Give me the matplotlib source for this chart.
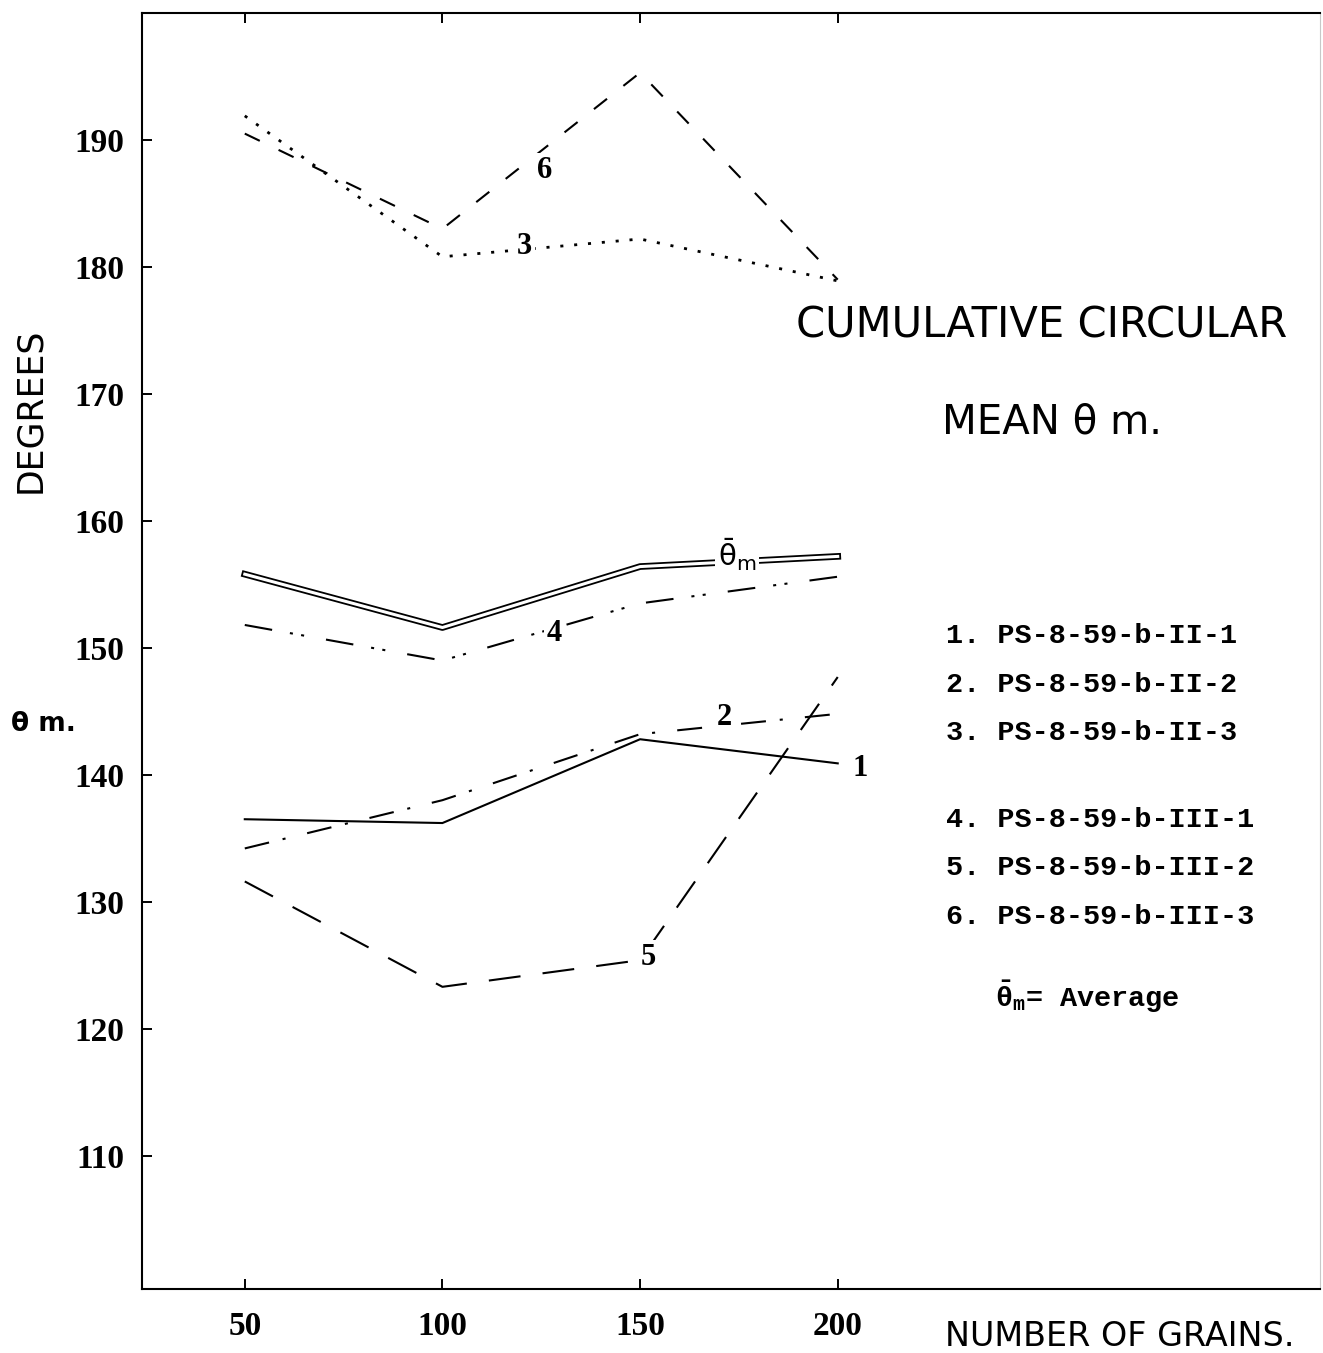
import matplotlib
matplotlib.use("Agg")
import matplotlib.pyplot as plt
import matplotlib.patheffects as pe

# ---------------- data ----------------
grains = [50, 100, 150, 200]
s1_II_1 = [136.5, 136.2, 142.8, 140.9]
s2_II_2 = [134.2, 138.0, 143.2, 144.8]
s3_II_3 = [191.9, 180.8, 182.2, 178.9]
s4_III_1 = [151.8, 149.0, 153.5, 155.6]
s5_III_2 = [131.6, 123.3, 125.4, 147.7]
s6_III_3 = [190.5, 183.0, 195.3, 179.0]
average = [155.8, 151.6, 156.4, 157.2]

y_ticks = [110, 120, 130, 140, 150, 160, 170, 180, 190]
x_ticks = [50, 100, 150, 200]

legend_lines = ["1. PS-8-59-b-II-1", "2. PS-8-59-b-II-2", "3. PS-8-59-b-II-3",
                "4. PS-8-59-b-III-1", "5. PS-8-59-b-III-2", "6. PS-8-59-b-III-3"]

# ---------------- figure ----------------
plt.rcParams['lines.scale_dashes'] = False
plt.rcParams['mathtext.default'] = 'regular'
W, H = 1323, 1353
fig = plt.figure(figsize=(W / 100, H / 100), dpi=100)
ax = fig.add_axes([142 / W, 1 - 1289 / H, (1320 - 142) / W, (1289 - 13) / H])
ax.set_xlim(24, 322)
ax.set_ylim(99.5, 200)

lw = 1.5
ax.plot(grains, s1_II_1, color='black', lw=lw, solid_joinstyle='miter')
ax.plot(grains, s2_II_2, color='black', lw=lw, dashes=(18, 10, 2.2, 16))
ax.plot(grains, s3_II_3, color='black', lw=2.0, dashes=(2.2, 7.8))
ax.plot(grains, s4_III_1, color='black', lw=lw, dashes=(20, 13, 2.2, 6, 2.2, 16))
ax.plot(grains, s5_III_2, color='black', lw=lw, dashes=(23, 16))
ax.plot(grains, s6_III_3, color='black', lw=lw, dashes=(12, 15))
ax.plot(grains, average, color='white', lw=2.2,
        path_effects=[pe.Stroke(linewidth=4.8, foreground='black'), pe.Normal()])

# curve labels
lab_kw = dict(fontsize=22, fontweight='bold', family='Liberation Serif',
              ha='center', va='center', zorder=5,
              bbox=dict(facecolor='white', edgecolor='none', pad=2))
ax.text(125.9, 187.6, "6", **lab_kw)
ax.text(120.8, 181.6, "3", **lab_kw)
ax.text(128.4, 151.1, "4", **lab_kw)
ax.text(171.4, 144.5, "2", **lab_kw)
ax.text(205.8, 140.5, "1", **lab_kw)
ax.text(152.0, 125.6, "5", **lab_kw)
ax.text(174.5, 157.3, r"$\bar{\theta}_{m}$", fontsize=21, ha='center', va='center',
        zorder=5, bbox=dict(facecolor='white', edgecolor='none', pad=2))

# axes styling
for side in ['left', 'bottom', 'top']:
    ax.spines[side].set_linewidth(1.5)
ax.spines['right'].set_color('#c8c8c8')
ax.spines['right'].set_linewidth(0.8)

ax.set_xticks(x_ticks)
ax.set_yticks(y_ticks)
ax.tick_params(axis='x', direction='in', length=7, width=1.4, top=True,
               labeltop=False, pad=16)
ax.tick_params(axis='y', direction='in', length=7.5, width=1.4, right=False, pad=13)
for t in ax.get_xticklabels() + ax.get_yticklabels():
    t.set_family('Liberation Serif')
    t.set_fontweight('bold')
    t.set_fontsize(24)

# axis titles and annotations
sans = 'DejaVu Sans'
fig.text(30 / W, 1 - 410 / H, "DEGREES", rotation=90, fontsize=25, family=sans,
         ha='center', va='center')
fig.text(43 / W, 1 - 724 / H, "θ m.", fontsize=19, family=sans, fontweight='bold',
         ha='center', va='center')
fig.text(1120 / W, 1 - 1337 / H, "NUMBER OF GRAINS.", fontsize=24, family=sans,
         ha='center', va='center')
fig.text(1042 / W, 1 - 325 / H, "CUMULATIVE CIRCULAR", fontsize=30, family=sans,
         ha='center', va='center')
fig.text(1052 / W, 1 - 423 / H, "MEAN θ m.", fontsize=29, family=sans,
         ha='center', va='center')

rows_y = [636, 685, 733, 820, 868, 917]
for txt, yy in zip(legend_lines, rows_y):
    fig.text(946 / W, 1 - yy / H, txt, fontsize=20.5, family='Liberation Mono',
             fontweight='bold', ha='left', va='center')
fig.text(995 / W, 1 - 997 / H, r"$\bar{\theta}_{m}$= Average", fontsize=20.5,
         family='Liberation Mono', fontweight='bold', ha='left', va='center')

fig.savefig("out.png", dpi=100, facecolor='white')
